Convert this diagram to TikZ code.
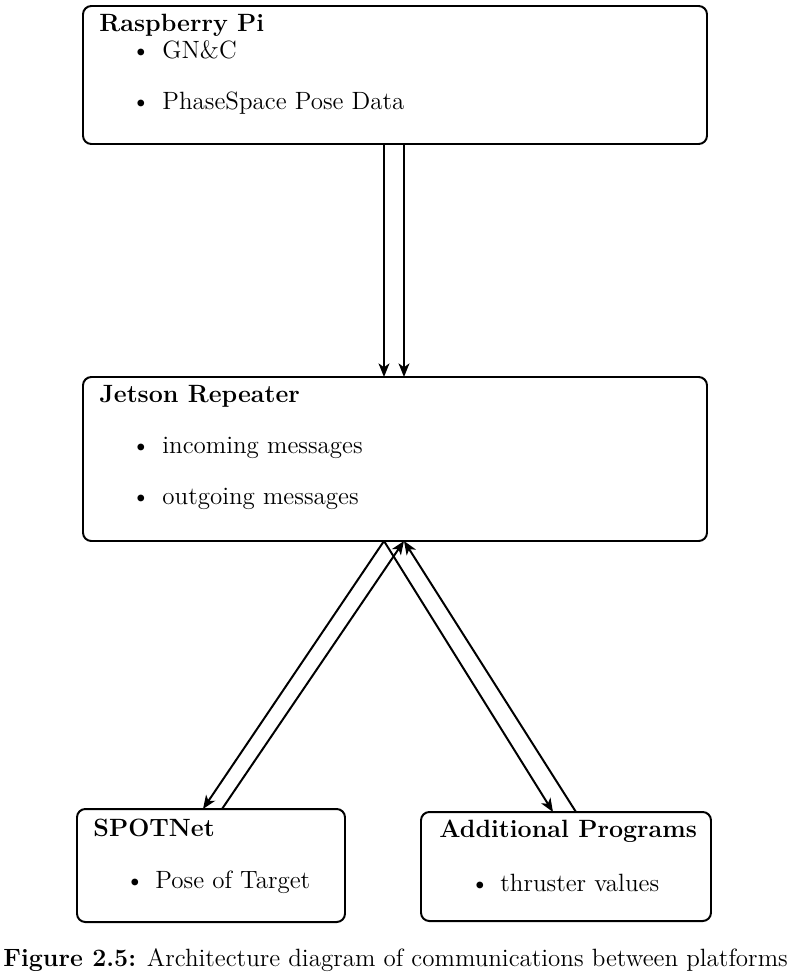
\documentclass[tikz,border=0pt]{standalone}
\usetikzlibrary{arrows.meta,calc}
\begin{document}
\begin{tikzpicture}[x=0.48pt,y=-0.48pt,
  box/.style={draw,line width=0.95pt,rounded corners=4pt},
  txt/.style={anchor=base west,inner sep=0pt,font=\fontsize{12}{14.5}\selectfont},
  ttl/.style={txt,font=\fontsize{12}{14.5}\selectfont\bfseries},
  conn/.style={line width=0.95pt,-{Stealth[length=6.5pt,width=5.2pt,inset=1.8pt]}},
  bul/.style={anchor=base west,inner sep=0pt,font=\fontsize{12}{14.5}\selectfont}]
\useasboundingbox (0,0) rectangle (790,976);
% boxes
\draw[box] (83,6) rectangle (707,144);
\coordinate (piS) at (395,144);
\draw[box] (83,377) rectangle (707,541);
\coordinate (jetN) at (395,377);
\coordinate (jetS) at (395,541);
\draw[box] (77,809) rectangle (345,922);
\coordinate (spotN) at (211,809);
\draw[box] (421,812) rectangle (711,921);
\coordinate (addN) at (566,812);
% texts
\node[ttl] (piT) at (99,31) {Raspberry Pi};
\node[bul] (piB1) at (131,58) {\textbullet};
\node[txt] (piI1) at (162,58) {GN\&C};
\node[bul] (piB2) at (131,109) {\textbullet};
\node[txt] (piI2) at (162,109) {PhaseSpace Pose Data};
\node[ttl] (jetT) at (99,402) {Jetson Repeater};
\node[bul] (jetB1) at (131,453) {\textbullet};
\node[txt] (jetI1) at (162,453) {incoming messages};
\node[bul] (jetB2) at (131,504) {\textbullet};
\node[txt] (jetI2) at (162,504) {outgoing messages};
\node[ttl] (spotT) at (93,836) {SPOTNet};
\node[bul] (spotB) at (125,888) {\textbullet};
\node[txt] (spotI) at (155,888) {Pose of Target};
\node[ttl] (addT) at (439,837) {Additional Programs};
\node[bul] (addB) at (470,891) {\textbullet};
\node[txt] (addI) at (500,891) {thruster values};
\node[txt] (cap) at (3,966) {\textbf{Figure 2.5:} Architecture diagram of communications between platforms};
% connectors
\draw[conn] ($(piS)+(-11,0)$) -- ($(jetN)+(-11,0)$);
\draw[conn] ($(piS)+(9,0)$) -- ($(jetN)+(9,0)$);
\draw[conn] ($(jetS)+(-11,0)$) -- ($(spotN)+(-8,0)$);
\draw[conn] ($(spotN)+(11,0)$) -- ($(jetS)+(9,0)$);
\draw[conn] ($(jetS)+(-11,0)$) -- ($(addN)+(-13,0)$);
\draw[conn] ($(addN)+(10,0)$) -- ($(jetS)+(9,0)$);
\end{tikzpicture}
\end{document}
